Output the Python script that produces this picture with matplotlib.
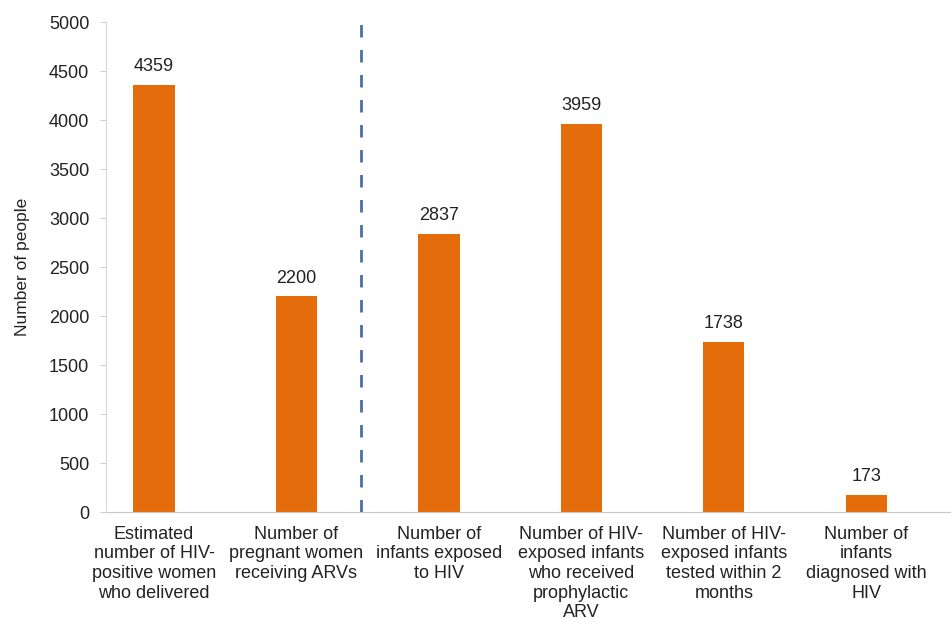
import matplotlib.pyplot as plt
import numpy as np

plt.rcParams['font.family'] = ['Liberation Sans', 'DejaVu Sans']

categories = [
    "Estimated\nnumber of HIV-\npositive women\nwho delivered",
    "Number of\npregnant women\nreceiving ARVs",
    "Number of\ninfants exposed\nto HIV",
    "Number of HIV-\nexposed infants\nwho received\nprophylactic\nARV",
    "Number of HIV-\nexposed infants\ntested within 2\nmonths",
    "Number of\ninfants\ndiagnosed with\nHIV",
]
values = [4359, 2200, 2837, 3959, 1738, 173]
yticks = list(range(0, 5001, 500))

fig = plt.figure(figsize=(9.53, 6.29), dpi=100)
ax = fig.add_axes([0.1112, 0.186, 0.886, 0.779])

x = np.arange(len(categories))
bars = ax.bar(x, values, width=0.29, color="#E46C0A")
for b, v in zip(bars, values):
    ax.text(b.get_x() + b.get_width() / 2, v + 100, str(v),
            ha="center", va="bottom", fontsize=13, color="#222222")

ax.axvline(1.45, color="#4A6FA5", linestyle=(0, (4.5, 4.5)), linewidth=2)

ax.set_xlim(-0.337, 5.59)
ax.set_ylim(0, 5000)
ax.set_yticks(yticks)
ax.set_xticks(x)
ax.set_xticklabels(categories, fontsize=13, color="#222222", linespacing=1.2)
ax.tick_params(axis="x", length=0, pad=10)
ax.tick_params(axis="y", labelsize=13, labelcolor="#222222", length=4,
               color="#D0D0D0", pad=8)
ax.set_ylabel("Number of people", fontsize=12.5, color="#222222")
ax.yaxis.set_label_coords(-0.09, 0.5)

for s in ["top", "right"]:
    ax.spines[s].set_visible(False)
ax.spines["left"].set_color("#D9D9D9")
ax.spines["bottom"].set_color("#C8C8C8")

fig.savefig("out.png", dpi=100)
